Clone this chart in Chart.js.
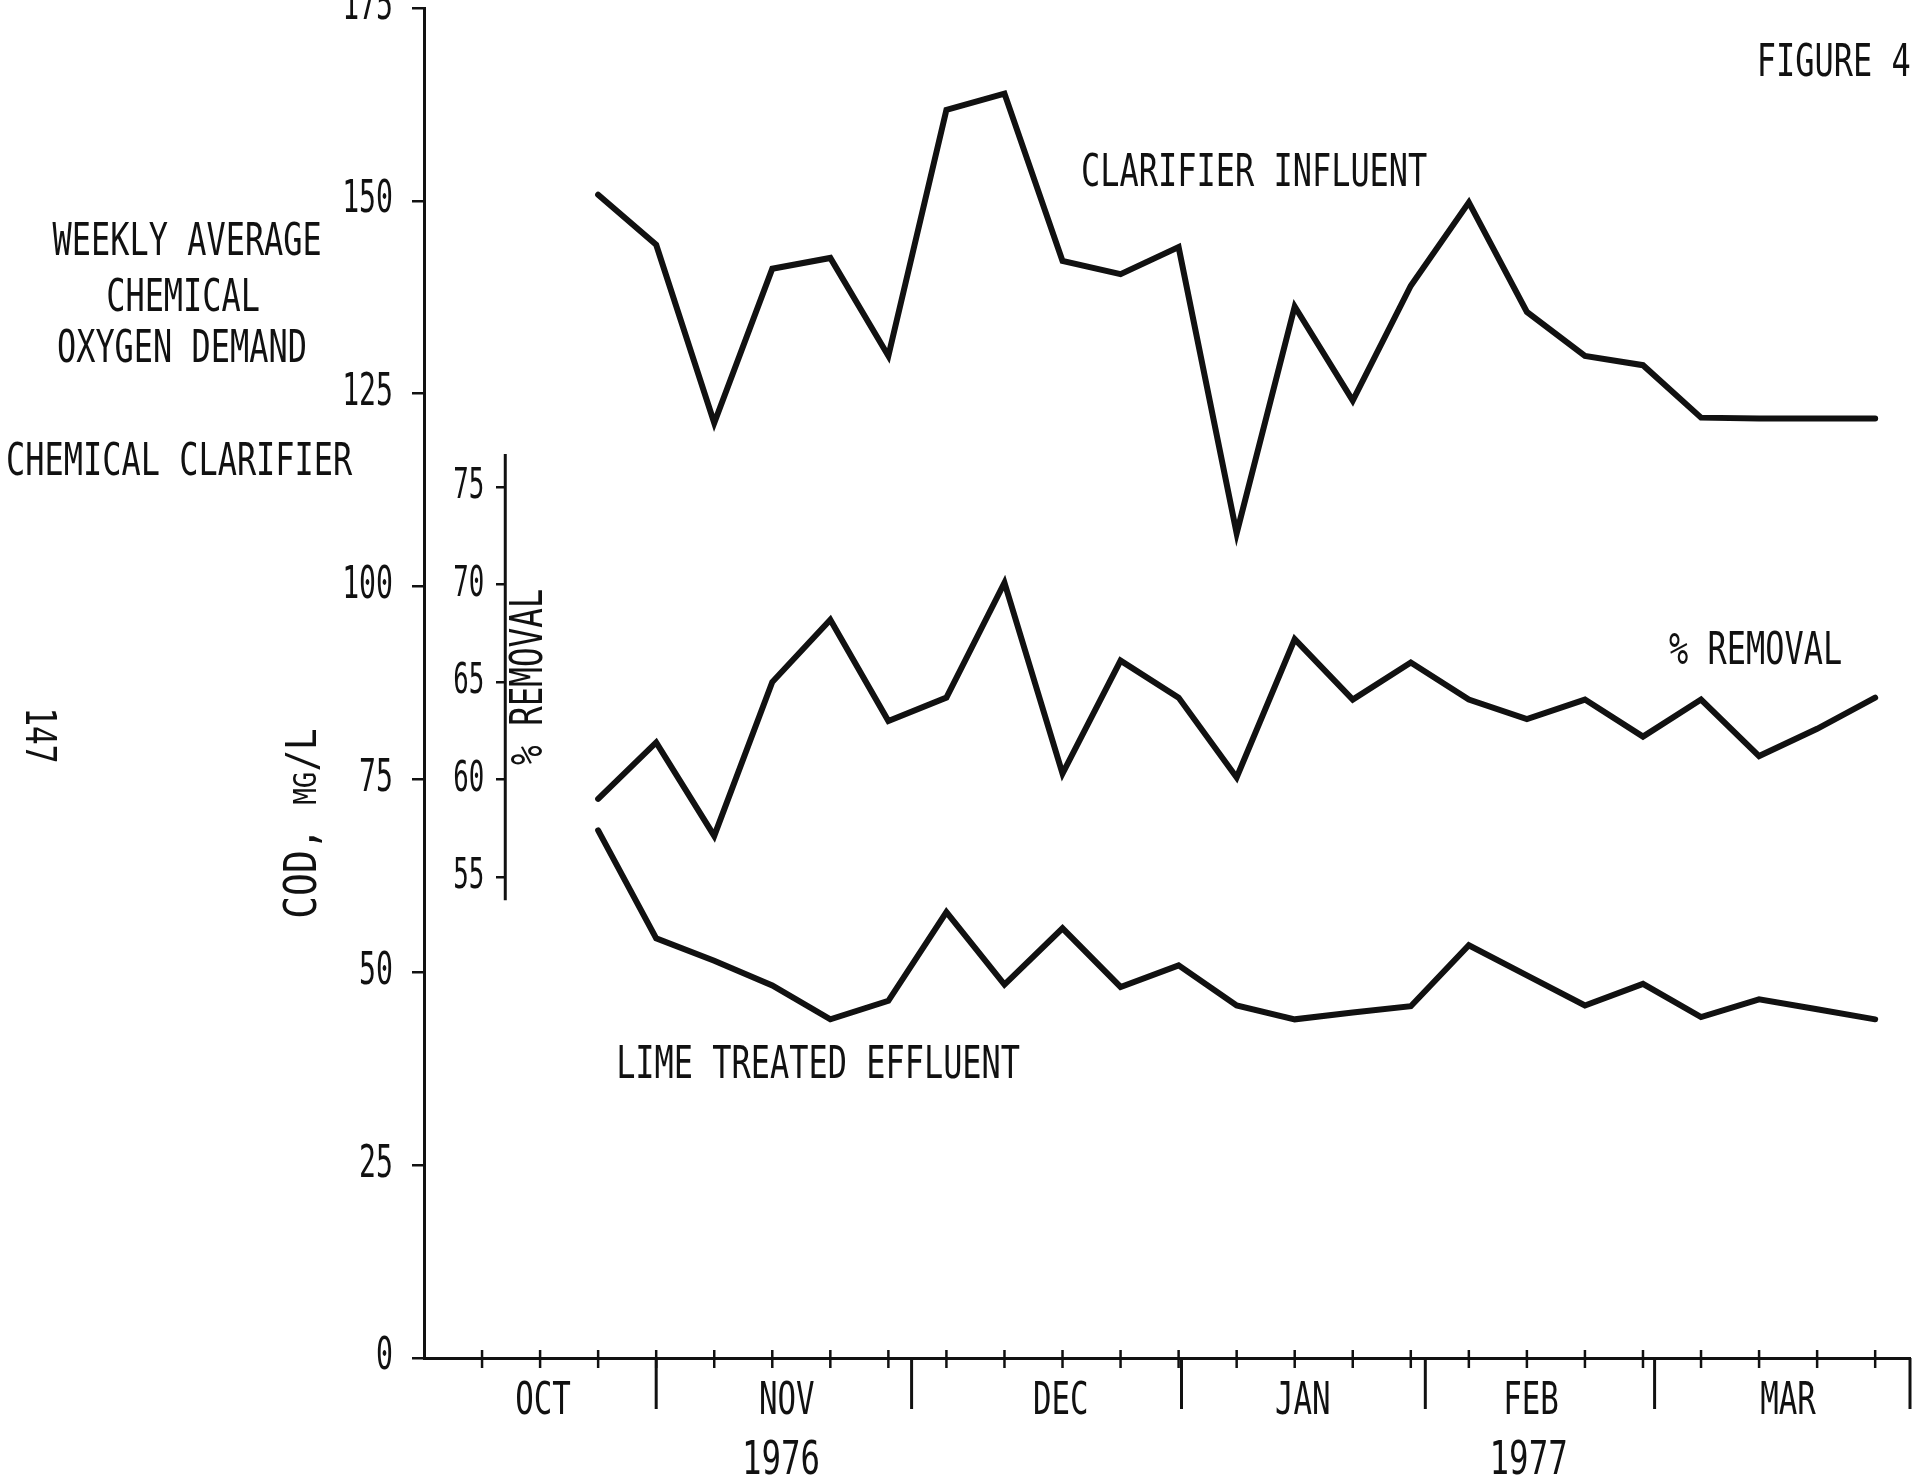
<!DOCTYPE html>
<html>
<head>
<meta charset="utf-8">
<title>Figure 4 - Weekly average chemical oxygen demand</title>
<script src="https://cdn.jsdelivr.net/npm/chart.js@4.4.1/dist/chart.umd.min.js"></script>
<style>
  html, body { margin: 0; padding: 0; background: #fff; overflow: hidden; }
  #wrap { position: relative; width: 1913px; height: 1482px; }
</style>
</head>
<body>
<div id="wrap"><canvas id="codChart" width="1913" height="1482"></canvas></div>
<script>
/* DATA */

// x positions in weeks from the start of the axis (one tick per week)
const weeks = [3, 4, 5, 6, 7, 8, 9, 10, 11, 12, 13, 14, 15, 16, 17, 18, 19, 20, 21, 22, 23, 24, 25];

// COD, mg/L
const influent = [150.8, 144.3, 121.2, 141.2, 142.6, 129.9, 161.8, 163.9, 142.2, 140.5, 144.0, 106.9,
                  136.3, 124.1, 139.0, 149.8, 135.6, 129.9, 128.7, 121.9, 121.8, 121.8, 121.8];
const effluent = [68.4, 54.4, 51.5, 48.3, 43.9, 46.3, 57.8, 48.4, 55.7, 48.1, 50.9, 45.7,
                  43.9, 44.8, 45.6, 53.5, 49.6, 45.7, 48.5, 44.2, 46.5, 45.2, 43.9];
// % removal (inner axis)
const removal = [59.0, 61.9, 57.1, 65.0, 68.2, 63.0, 64.2, 70.1, 60.3, 66.1, 64.2, 60.1,
                 67.2, 64.1, 66.0, 64.1, 63.1, 64.1, 62.2, 64.1, 61.2, 62.6, 64.2];

const codTicks = [0, 25, 50, 75, 100, 125, 150, 175];
const removalTicks = [55, 60, 65, 70, 75];
const removalAxisSpan = [53.8, 76.7];
const removalAxisAt = 1.4;

const weekTicks = [1, 2, 3, 4, 5, 6, 7, 8, 9, 10, 11, 12, 13, 14, 15, 16, 17, 18, 19, 20, 21, 22, 23, 24, 25];
const months = ['OCT', 'NOV', 'DEC', 'JAN', 'FEB', 'MAR'];
const monthCenters = [2.05, 6.25, 10.97, 15.14, 19.07, 23.5];
const monthEdges = [4, 8.4, 13.05, 17.25, 21.2, 25.6];
const years = ['1976', '1977'];
const yearCenters = [6.15, 19.03];

const INK = '#111';
const MONO = '"DejaVu Sans Mono", "Liberation Mono", monospace';

/* HELPERS */

function toPoints(values) {
  return values.map(function(v, i) { return { x: weeks[i], y: v }; });
}

function drawLabel(ctx, text, px, py, opts) {
  opts = opts || {};
  ctx.save();
  ctx.translate(px, py);
  if (opts.rot) ctx.rotate(opts.rot);
  ctx.scale(opts.sx || 0.71, 1);
  ctx.font = (opts.size || 45) + 'px ' + MONO;
  ctx.fillStyle = INK;
  ctx.textAlign = opts.align || 'center';
  ctx.textBaseline = opts.baseline || 'middle';
  ctx.fillText(text, 0, 0);
  ctx.restore();
}

function strokeLine(ctx, x1, y1, x2, y2) {
  ctx.beginPath();
  ctx.moveTo(x1, y1);
  ctx.lineTo(x2, y2);
  ctx.stroke();
}

/* AXES DECORATION + TEXT */

const decorations = {
  id: 'decorations',
  afterDraw: function(chart) {
    const ctx = chart.ctx;
    const x = chart.scales.x;
    const y = chart.scales.y;
    const y2 = chart.scales.y2;
    const base = y.getPixelForValue(0);
    const axisX = x.getPixelForValue(0);

    ctx.save();
    ctx.strokeStyle = INK;
    ctx.lineCap = 'butt';

    // weekly ticks crossing the time axis
    ctx.lineWidth = 2.5;
    weekTicks.forEach(function(w) {
      const px = x.getPixelForValue(w);
      strokeLine(ctx, px, base - 8, px, base + 10);
    });

    // long month separators
    ctx.lineWidth = 3;
    monthEdges.forEach(function(m) {
      const px = x.getPixelForValue(m);
      strokeLine(ctx, px, base, px, base + 51);
    });

    // short % removal axis
    const rx = x.getPixelForValue(removalAxisAt);
    strokeLine(ctx, rx, y2.getPixelForValue(removalAxisSpan[0]), rx, y2.getPixelForValue(removalAxisSpan[1]));
    ctx.restore();

    // tick labels
    y.ticks.forEach(function(t) {
      drawLabel(ctx, String(t.value), axisX - 31, y.getPixelForValue(t.value), { size: 44, sx: 0.64, align: 'right' });
    });
    y2.ticks.forEach(function(t) {
      drawLabel(ctx, String(t.value), rx - 21, y2.getPixelForValue(t.value), { size: 43, sx: 0.6, align: 'right' });
    });

    // month and year labels
    months.forEach(function(m, i) {
      drawLabel(ctx, m, x.getPixelForValue(monthCenters[i]), base + 45, { size: 44, sx: 0.7 });
    });
    years.forEach(function(yr, i) {
      drawLabel(ctx, yr, x.getPixelForValue(yearCenters[i]), base + 104, { size: 47, sx: 0.69 });
    });

    // text placed in data coordinates
    const at = function(vx, vy) { return [x.getPixelForValue(vx), y.getPixelForValue(vy)]; };
    let p;
    p = at(22.96, 167.7); drawLabel(ctx, 'FIGURE 4', p[0], p[1], { align: 'left' });
    p = at(11.32, 153.5); drawLabel(ctx, 'CLARIFIER INFLUENT', p[0], p[1], { align: 'left' });
    p = at(21.45, 91.5); drawLabel(ctx, '% REMOVAL', p[0], p[1], { align: 'left' });
    p = at(3.31, 37.8); drawLabel(ctx, 'LIME TREATED EFFLUENT', p[0], p[1], { align: 'left' });
    p = at(-4.08, 144.5); drawLabel(ctx, 'WEEKLY AVERAGE', p[0], p[1]);
    p = at(-4.15, 137.3); drawLabel(ctx, 'CHEMICAL', p[0], p[1]);
    p = at(-4.17, 130.6); drawLabel(ctx, 'OXYGEN DEMAND', p[0], p[1]);
    p = at(-7.2, 116.0); drawLabel(ctx, 'CHEMICAL CLARIFIER', p[0], p[1], { align: 'left' });
    p = at(-6.67, 80.7); drawLabel(ctx, '147', p[0], p[1], { rot: Math.PI / 2, size: 42, sx: 0.74 });
    p = at(1.84, 88.3); drawLabel(ctx, '% REMOVAL', p[0], p[1], { rot: -Math.PI / 2, size: 44, sx: 0.74 });

    // rotated COD, MG/L with small caps
    p = at(-2.15, 69.3);
    ctx.save();
    ctx.translate(p[0] + 17, p[1]);
    ctx.rotate(-Math.PI / 2);
    ctx.scale(0.86, 1);
    ctx.fillStyle = INK;
    ctx.textBaseline = 'alphabetic';
    const parts = [['COD, ', 44], ['MG', 32], ['/L', 42]];
    let total = 0;
    parts.forEach(function(pt) { ctx.font = pt[1] + 'px ' + MONO; total += ctx.measureText(pt[0]).width; });
    let cx = -total / 2;
    parts.forEach(function(pt) {
      ctx.font = pt[1] + 'px ' + MONO;
      ctx.textAlign = 'left';
      ctx.fillText(pt[0], cx, 0);
      cx += ctx.measureText(pt[0]).width;
    });
    ctx.restore();
  }
};

/* CHART */

const lineStyle = {
  borderColor: INK,
  borderWidth: 6,
  pointRadius: 0,
  tension: 0,
  fill: false,
  borderJoinStyle: 'miter',
  borderCapStyle: 'round'
};

const ctx = document.getElementById('codChart').getContext('2d');
// eslint-disable-next-line no-undef
const chart = new Chart(ctx, {
  type: 'line',
  data: {
    datasets: [
      Object.assign({ label: 'Clarifier influent', data: toPoints(influent), yAxisID: 'y' }, lineStyle),
      Object.assign({ label: '% Removal', data: toPoints(removal), yAxisID: 'y2' }, lineStyle),
      Object.assign({ label: 'Lime treated effluent', data: toPoints(effluent), yAxisID: 'y' }, lineStyle)
    ]
  },
  options: {
    responsive: false,
    animation: false,
    events: [],
    layout: { padding: { top: 8, right: 3, left: 0, bottom: 0 } },
    plugins: { legend: { display: false }, tooltip: { enabled: false } },
    scales: {
      x: {
        type: 'linear', min: 0, max: 25.6,
        ticks: { display: false },
        grid: { display: false },
        border: { display: true, color: INK, width: 3 },
        afterFit: function(s) { s.height = 124; }
      },
      y: {
        min: 0, max: 175,
        afterBuildTicks: function(s) { s.ticks = codTicks.map(function(v) { return { value: v }; }); },
        ticks: { display: false },
        grid: { drawOnChartArea: false, drawTicks: true, tickLength: 12, color: INK, lineWidth: 2.5 },
        border: { display: true, color: INK, width: 3 },
        afterFit: function(s) { s.width = 424; }
      },
      y2: {
        position: { x: removalAxisAt },
        min: 30.3, max: 99.6,
        afterBuildTicks: function(s) { s.ticks = removalTicks.map(function(v) { return { value: v }; }); },
        ticks: { display: false },
        grid: { drawOnChartArea: false, drawTicks: true, tickLength: 9, color: INK, lineWidth: 2.5 },
        border: { display: false }
      }
    }
  },
  plugins: [decorations]
});
</script>
</body>
</html>
